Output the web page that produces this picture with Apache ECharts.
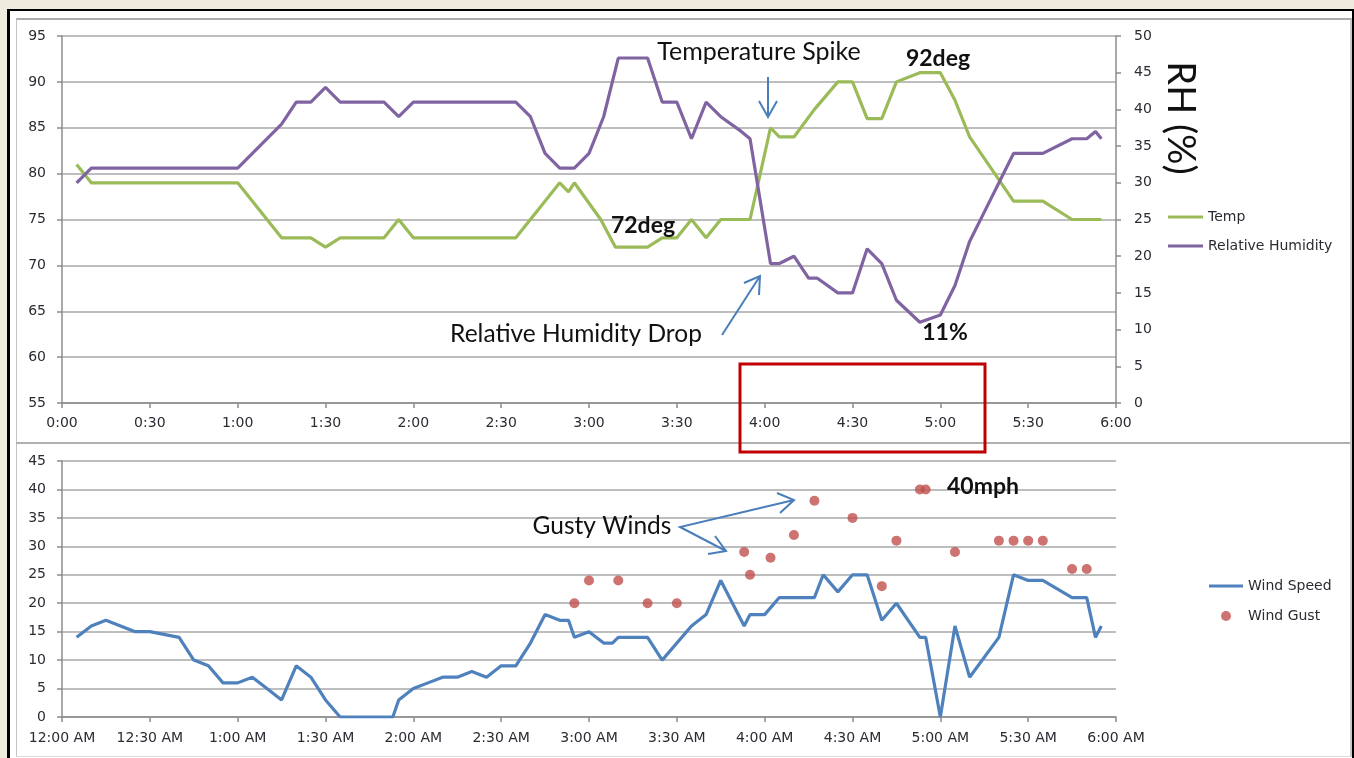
<!DOCTYPE html>
<html>
<head>
<meta charset="utf-8">
<script src="https://cdn.jsdelivr.net/npm/echarts@6/dist/echarts.min.js"></script>
<style>
  html, body { margin: 0; padding: 0; background: #eeebdf; overflow: hidden; }
  .frame { position: absolute; left: 7px; top: 9px; width: 1347px; height: 760px; background: #fff;
           border-left: 3px solid #000; border-top: 2px solid #000; border-right: 2px solid #000; box-sizing: border-box; }
  .panel { position: absolute; left: 16px; top: 18px; width: 1336px; height: 739px;
           border-top: 2px solid #ababab; border-left: 1px solid #c4c4c4; border-right: 2px solid #c8c8c8;
           border-bottom: 1px solid #dcdcdc; box-sizing: border-box; }
  .divider { position: absolute; left: 16px; top: 442px; width: 1334px; height: 2px; background: #b0b0b0; }
  #main { position: absolute; left: 0; top: 0; width: 1354px; height: 758px; }
</style>
</head>
<body>
<div class="frame"></div>
<div class="panel"></div>
<div class="divider"></div>
<div id="main"></div>
<script>
// minutes after midnight
const tempMin = [5, 10, 60, 75, 85, 90, 95, 110, 115, 120, 155, 170, 173, 175, 184, 189, 200, 205, 210, 215, 220, 225, 235, 242, 245, 250, 257, 265, 270, 275, 280, 285, 293, 300, 305, 310, 325, 335, 345, 355]
const tempVal = [81, 79, 79, 73, 73, 72, 73, 73, 75, 73, 73, 79, 78, 79, 75, 72, 72, 73, 73, 75, 73, 75, 75, 85, 84, 84, 87, 90, 90, 86, 86, 90, 91, 91, 88, 84, 77, 77, 75, 75]

const rhMin = [5, 10, 60, 75, 80, 85, 90, 95, 110, 115, 120, 155, 160, 165, 170, 175, 180, 185, 190, 200, 205, 210, 215, 220, 225, 232, 235, 242, 245, 250, 255, 258, 265, 270, 275, 280, 285, 293, 300, 305, 310, 315, 325, 335, 345, 350, 353, 355]
const rhVal = [30, 32, 32, 38, 41, 41, 43, 41, 41, 39, 41, 41, 39, 34, 32, 32, 34, 39, 47, 47, 41, 41, 36, 41, 39, 37, 36, 19, 19, 20, 17, 17, 15, 15, 21, 19, 14, 11, 12, 16, 22, 26, 34, 34, 36, 36, 37, 36]

const windMin = [5, 10, 15, 20, 25, 30, 40, 45, 50, 55, 60, 65, 70, 75, 80, 85, 90, 95, 113, 115, 120, 125, 130, 135, 140, 145, 150, 155, 160, 165, 170, 173, 175, 180, 185, 188, 190, 200, 205, 215, 220, 225, 233, 235, 240, 245, 257, 260, 265, 270, 275, 280, 285, 293, 295, 300, 305, 310, 320, 325, 330, 335, 345, 350, 353, 355]
const windVal = [14, 16, 17, 16, 15, 15, 14, 10, 9, 6, 6, 7, 5, 3, 9, 7, 3, 0, 0, 3, 5, 6, 7, 7, 8, 7, 9, 9, 13, 18, 17, 17, 14, 15, 13, 13, 14, 14, 10, 16, 18, 24, 16, 18, 18, 21, 21, 25, 22, 25, 25, 17, 20, 14, 14, 0, 16, 7, 14, 25, 24, 24, 21, 21, 14, 16]

const gustMin = [175, 180, 190, 200, 210, 233, 235, 242, 250, 257, 270, 280, 285, 293, 295, 305, 320, 325, 330, 335, 345, 350]
const gustVal = [20, 24, 24, 20, 20, 29, 25, 28, 32, 38, 35, 23, 31, 40, 40, 29, 31, 31, 31, 31, 26, 26]

const pairs = (xs, ys) => xs.map((x, i) => [x, ys[i]])
const pad = m => String(m % 60).padStart(2, '0')
const hm = m => Math.floor(m / 60) + ':' + pad(m)
const ampm = m => {
  const h = Math.floor(m / 60)
  return (h === 0 ? 12 : h) + ':' + pad(m) + ' AM'
}

const GREEN = '#9bbb59', PURPLE = '#8064a2', BLUE = '#4f81bd', RED = '#c0504d'
const ARROW = '#4a7ebb'
const LINE_ICON = 'path://M0,0H35V3H0Z'

const axisLine = { show: true, lineStyle: { color: '#8c8c8c', width: 1.5 } }
const axisTick = { show: true, length: 5, lineStyle: { color: '#8c8c8c', width: 1.5 } }
const label = { color: '#2b2b33', fontFamily: 'DejaVu Sans', fontSize: 14 }
const grid = { show: true, lineStyle: { color: '#a8a8a8', width: 1.5 } }
const ann = { fontFamily: 'Lato', fill: '#111', align: 'center', verticalAlign: 'middle' }

const chart = echarts.init(document.getElementById('main'))
chart.setOption({
  animation: false,
  backgroundColor: 'transparent',
  grid: [
    { left: 62, right: 238, top: 36, height: 367 },
    { left: 62, right: 238, top: 461, height: 256 }
  ],
  xAxis: [
    {
      gridIndex: 0, type: 'value', min: 0, max: 360, interval: 30,
      axisLine, axisTick, splitLine: { show: false },
      axisLabel: { ...label, margin: 13, formatter: hm }
    },
    {
      gridIndex: 1, type: 'value', min: 0, max: 360, interval: 30,
      axisLine, axisTick, splitLine: { show: false },
      axisLabel: { ...label, margin: 14, formatter: ampm }
    }
  ],
  yAxis: [
    {
      gridIndex: 0, type: 'value', min: 55, max: 95, interval: 5,
      axisLine, axisTick, splitLine: grid, axisLabel: { ...label, margin: 16 }
    },
    {
      gridIndex: 0, type: 'value', position: 'right', min: 0, max: 50, interval: 5,
      axisLine, axisTick, splitLine: { show: false }, axisLabel: { ...label, margin: 18 }
    },
    {
      gridIndex: 1, type: 'value', min: 0, max: 45, interval: 5,
      axisLine, axisTick, splitLine: grid, axisLabel: { ...label, margin: 16 }
    }
  ],
  legend: [
    {
      left: 1168, top: 210, orient: 'vertical', padding: 0, itemGap: 15,
      itemWidth: 35, itemHeight: 9, textStyle: { ...label },
      data: [{ name: 'Temp', icon: LINE_ICON }, { name: 'Relative Humidity', icon: LINE_ICON }]
    },
    {
      left: 1209, top: 579, orient: 'vertical', padding: 0, itemGap: 16,
      itemWidth: 34, itemHeight: 10, textStyle: { ...label },
      data: [{ name: 'Wind Speed', icon: LINE_ICON }, { name: 'Wind Gust', icon: 'circle' }]
    }
  ],
  series: [
    {
      name: 'Temp', type: 'line', xAxisIndex: 0, yAxisIndex: 0, symbol: 'none',
      itemStyle: { color: GREEN }, lineStyle: { color: GREEN, width: 3.2 },
      data: pairs(tempMin, tempVal)
    },
    {
      name: 'Relative Humidity', type: 'line', xAxisIndex: 0, yAxisIndex: 1, symbol: 'none',
      itemStyle: { color: PURPLE }, lineStyle: { color: PURPLE, width: 3.2 },
      data: pairs(rhMin, rhVal)
    },
    {
      name: 'Wind Speed', type: 'line', xAxisIndex: 1, yAxisIndex: 2, symbol: 'none',
      itemStyle: { color: BLUE }, lineStyle: { color: BLUE, width: 3.2 },
      data: pairs(windMin, windVal)
    },
    {
      name: 'Wind Gust', type: 'scatter', xAxisIndex: 1, yAxisIndex: 2, symbolSize: 10,
      itemStyle: { color: RED }, z: 3,
      data: pairs(gustMin, gustVal)
    }
  ],
  graphic: [
    { type: 'text', z: 100, x: 1180, y: 118, rotation: -Math.PI / 2,
      style: { ...ann, text: 'RH (%)', fontSize: 38 } },
    { type: 'text', z: 100, x: 759, y: 52, style: { ...ann, text: 'Temperature Spike', fontSize: 25 } },
    { type: 'polyline', z: 100, shape: { points: [[768, 77], [768, 117]] }, style: { stroke: ARROW, lineWidth: 2 } },
    { type: 'polyline', z: 100, shape: { points: [[759, 101], [768, 117], [777, 101]] }, style: { stroke: ARROW, lineWidth: 2, fill: null } },
    { type: 'text', z: 100, x: 643, y: 226, style: { ...ann, text: '72deg', fontSize: 23, fontWeight: 'bold' } },
    { type: 'text', z: 100, x: 938, y: 59, style: { ...ann, text: '92deg', fontSize: 23, fontWeight: 'bold' } },
    { type: 'text', z: 100, x: 945, y: 333, style: { ...ann, text: '11%', fontSize: 23, fontWeight: 'bold' } },
    { type: 'text', z: 100, x: 576, y: 334, style: { ...ann, text: 'Relative Humidity Drop', fontSize: 24.5 } },
    { type: 'polyline', z: 100, shape: { points: [[722, 335], [760, 276]] }, style: { stroke: ARROW, lineWidth: 2 } },
    { type: 'polyline', z: 100, shape: { points: [[744, 283], [760, 276], [759, 295]] }, style: { stroke: ARROW, lineWidth: 2, fill: null } },
    { type: 'rect', z: 100, shape: { x: 740, y: 364, width: 245, height: 88 }, style: { stroke: '#c00000', lineWidth: 3, fill: null } },
    { type: 'text', z: 100, x: 602, y: 526, style: { ...ann, text: 'Gusty Winds', fontSize: 24.5 } },
    { type: 'polyline', z: 100, shape: { points: [[794, 500], [680, 527], [726, 551]] }, style: { stroke: ARROW, lineWidth: 2, fill: null } },
    { type: 'polyline', z: 100, shape: { points: [[777, 493], [794, 500], [780, 513]] }, style: { stroke: ARROW, lineWidth: 2, fill: null } },
    { type: 'polyline', z: 100, shape: { points: [[715, 536], [726, 551], [708, 554]] }, style: { stroke: ARROW, lineWidth: 2, fill: null } },
    { type: 'text', z: 100, x: 983, y: 487, style: { ...ann, text: '40mph', fontSize: 23, fontWeight: 'bold' } }
  ]
})
</script>
</body>
</html>
